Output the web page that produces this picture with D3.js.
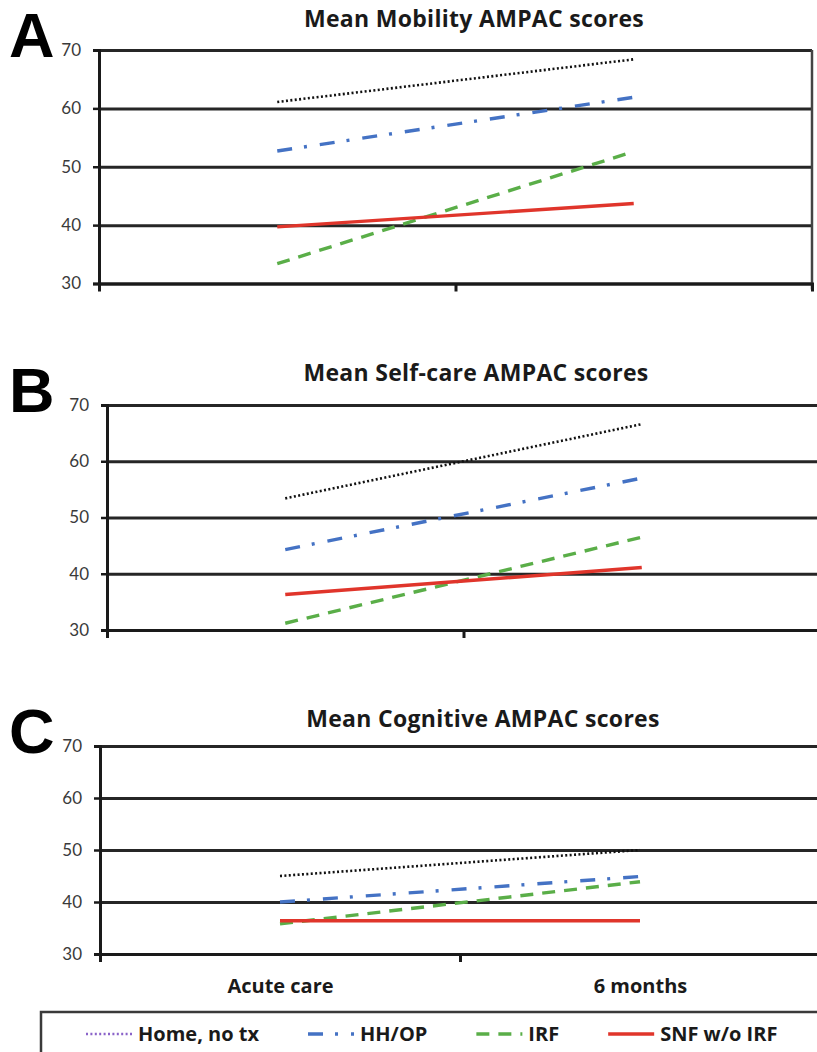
<!DOCTYPE html>
<html>
<head>
<meta charset="utf-8">
<script src="https://cdn.jsdelivr.net/npm/d3@7"></script>
<style>
  body { margin: 0; background: #fff; }
  svg { display: block; }
</style>
</head>
<body>
<svg id="chart"></svg>
<script>
const width = 817
const height = 1052

// Data
const categories = ['Acute care', '6 months']
const seriesNames = ['Home, no tx', 'HH/OP', 'IRF', 'SNF w/o IRF']
const yTicks = [30, 40, 50, 60, 70]

const mobility = [
    [61.1, 68.4],
    [52.7, 61.9],
    [33.4, 52.6],
    [39.7, 43.7]
]
const selfCare = [
    [53.4, 66.6],
    [44.3, 57.0],
    [31.2, 46.5],
    [36.3, 41.1]
]
const cognitive = [
    [45.0, 50.0],
    [40.0, 44.9],
    [35.8, 43.9],
    [36.4, 36.4]
]

const panelLetters = ['A', 'B', 'C']
const panelTitles = ['Mean Mobility AMPAC scores', 'Mean Self-care AMPAC scores', 'Mean Cognitive AMPAC scores']
const panelData = [mobility, selfCare, cognitive]

// series styles
const colors = ['#111111', '#4472c4', '#5aae48', '#e0352b']
const legendColors = ['#8a63c9', '#4472c4', '#5aae48', '#e0352b']
const dashes = ['2,2.4', '15,12,3,13', '13,9', null]
const widths = [2.6, 3.4, 3.4, 3.4]

// panel boxes
const boxes = [
    { left: 99, right: 812, top: 50, bottom: 283.5, titleX: 474, titleY: 27, letterY: 57 },
    { left: 107, right: 820, top: 405, bottom: 630, titleX: 476, titleY: 381, letterY: 412 },
    { left: 100, right: 820, top: 746, bottom: 954, titleX: 483, titleY: 727, letterY: 753 }
]

const font = '"Open Sans", Lato, sans-serif'
const tickFont = 'Lato, "Open Sans", sans-serif'

var svg = d3.select('#chart')
    .attr('width', width)
    .attr('height', height)

svg.append('rect').attr('width', width).attr('height', height).attr('fill', '#fff')

panelData.forEach(function (data, p) {
    var b = boxes[p]
    var g = svg.append('g')

    var y = d3.scaleLinear().domain([30, 70]).range([b.bottom, b.top])
    var x = d3.scalePoint().domain(categories).range([b.left, b.right]).padding(0.5)
    var xEdge = d3.scaleLinear().domain([0, categories.length]).range([b.left, b.right])

    // gridlines
    g.append('g')
        .attr('class', 'grid')
        .attr('transform', `translate(${b.left},0)`)
        .call(d3.axisLeft(y).tickValues(yTicks).tickSize(-(b.right - b.left)).tickFormat(''))
        .call(s => s.select('.domain').remove())
        .selectAll('line')
        .attr('stroke', '#262626')
        .attr('stroke-width', 3)

    // y axis
    g.append('g')
        .attr('transform', `translate(${b.left},0)`)
        .call(d3.axisLeft(y).tickValues(yTicks).tickSize(6).tickPadding(12))
        .call(s => s.select('.domain').attr('stroke', '#1a1a1a').attr('stroke-width', 3))
        .call(s => s.selectAll('line').attr('stroke', '#1a1a1a').attr('stroke-width', 2.5))
        .selectAll('text')
        .attr('font-family', tickFont)
        .attr('font-size', 17)
        .attr('fill', '#3a3a3a')

    // right border
    g.append('line')
        .attr('x1', b.right).attr('x2', b.right)
        .attr('y1', b.top).attr('y2', b.bottom + 6)
        .attr('stroke', '#444').attr('stroke-width', 2.5)

    // x axis (ticks at category boundaries)
    g.append('g')
        .attr('transform', `translate(0,${b.bottom})`)
        .call(d3.axisBottom(xEdge).tickValues(d3.range(1, categories.length)).tickSize(8).tickFormat(''))
        .call(s => s.select('.domain').attr('stroke', '#1a1a1a').attr('stroke-width', 3))
        .selectAll('line')
        .attr('stroke', '#1a1a1a')
        .attr('stroke-width', 3)

    // category labels under the last panel
    if (p === panelData.length - 1) {
        g.append('g')
            .attr('transform', `translate(0,${b.bottom})`)
            .call(d3.axisBottom(x).tickSize(0).tickPadding(25))
            .call(s => s.select('.domain').remove())
            .selectAll('text')
            .attr('font-family', font)
            .attr('font-weight', 'bold')
            .attr('font-size', 20)
            .attr('fill', '#1a1a1a')
    }

    // series lines
    var line = d3.line()
        .x((d, i) => x(categories[i]))
        .y(d => y(d))

    g.selectAll('path.series')
        .data(data)
        .enter()
        .append('path')
        .attr('class', 'series')
        .attr('d', d => line(d))
        .attr('fill', 'none')
        .attr('stroke', (d, i) => colors[i])
        .attr('stroke-width', (d, i) => widths[i])
        .attr('stroke-dasharray', (d, i) => dashes[i])

    // title
    g.append('text')
        .attr('x', b.titleX)
        .attr('y', b.titleY)
        .attr('text-anchor', 'middle')
        .attr('font-family', font)
        .attr('font-weight', 'bold')
        .attr('font-size', 23)
        .attr('letter-spacing', 0.3)
        .attr('fill', '#1a1a1a')
        .text(panelTitles[p])

    // panel letter
    g.append('text')
        .attr('x', 9)
        .attr('y', b.letterY)
        .attr('font-family', '"Liberation Sans", Arial, sans-serif')
        .attr('font-weight', 'bold')
        .attr('font-size', 63)
        .attr('fill', '#000')
        .text(panelLetters[p])
})

// Legend
var legend = svg.append('g')
legend.append('rect')
    .attr('x', 41).attr('y', 1012)
    .attr('width', 800).attr('height', 80)
    .attr('fill', '#fff')
    .attr('stroke', '#3a3a3a')
    .attr('stroke-width', 2.5)

var lx = 86
var ly = 1034
seriesNames.forEach(function (name, i) {
    legend.append('line')
        .attr('x1', lx).attr('x2', lx + 46)
        .attr('y1', ly).attr('y2', ly)
        .attr('stroke', legendColors[i])
        .attr('stroke-width', widths[i])
        .attr('stroke-dasharray', dashes[i])
    var t = legend.append('text')
        .attr('x', lx + 52)
        .attr('y', ly + 7)
        .attr('font-family', font)
        .attr('font-weight', 'bold')
        .attr('font-size', 20)
        .attr('fill', '#1a1a1a')
        .text(name)
    lx += 52 + t.node().getComputedTextLength() + 49
})
</script>
</body>
</html>
